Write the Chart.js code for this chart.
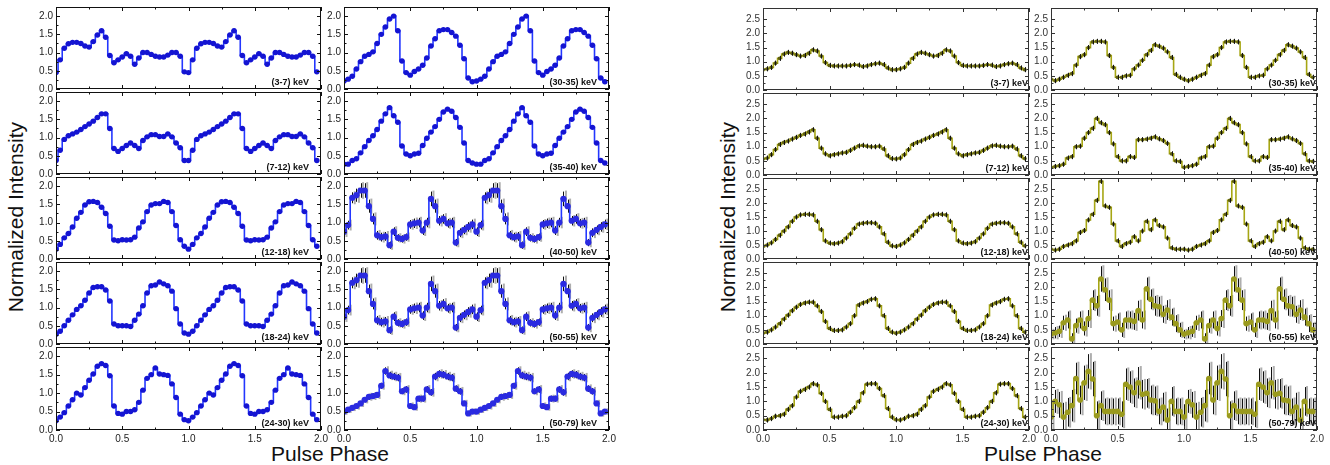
<!DOCTYPE html>
<html>
<head>
<meta charset="utf-8">
<script src="https://cdn.jsdelivr.net/npm/chart.js@4.4.0/dist/chart.umd.min.js"></script>
<style>
body{margin:0;background:#fff;}
#lienzo{position:relative;width:1330px;height:465px;overflow:hidden;background:#fff;font-family:Arial,"Liberation Sans",sans-serif;}
#lienzo canvas{position:absolute;}
.titulo{position:absolute;font-size:21px;color:#111;text-align:center;white-space:nowrap;line-height:24px;height:24px;}
.vertical{transform:rotate(-90deg);transform-origin:50% 50%;}
</style>
</head>
<body>
<div id="lienzo">
  <div class="titulo vertical" style="left:-94px;top:205px;width:220px;">Normalized Intensity</div>
  <div class="titulo vertical" style="left:618px;top:205px;width:220px;">Normalized Intensity</div>
  <div class="titulo" style="left:230px;top:442px;width:200px;">Pulse Phase</div>
  <div class="titulo" style="left:943px;top:442px;width:200px;">Pulse Phase</div>
</div>
<script>
//Datos: un ciclo de 32 bins por panel (el grafico lo muestra dos veces)
var binsCiclo = 32;
var ticksX = [0, 0.5, 1.0, 1.5, 2.0];
var ticksYIzq = [0, 0.5, 1.0, 1.5, 2.0];
var ticksYDer = [0, 0.5, 1.0, 1.5, 2.0, 2.5];

var etiquetas = ["(3-7) keV", "(30-35) keV", "(7-12) keV", "(35-40) keV", "(12-18) keV",
                 "(40-50) keV", "(18-24) keV", "(50-55) keV", "(24-30) keV", "(50-79) keV"];

//Figura izquierda
var izq_3_7   = [0.45,0.8,1.12,1.24,1.28,1.28,1.25,1.18,1.15,1.3,1.48,1.6,1.42,0.92,0.72,0.8,0.88,0.97,0.9,0.68,0.85,1.0,1.0,0.95,0.9,0.88,0.88,0.93,1.0,1.0,0.9,0.47];
var izq_30_35 = [0.22,0.27,0.35,0.55,0.75,0.9,0.95,1.02,1.25,1.5,1.7,1.92,2.0,1.6,0.77,0.45,0.38,0.48,0.55,0.65,0.85,1.18,1.38,1.6,1.63,1.63,1.55,1.45,1.2,0.83,0.3,0.2];
var izq_7_12  = [0.37,0.65,0.95,1.05,1.1,1.15,1.22,1.3,1.37,1.45,1.55,1.65,1.65,1.25,0.7,0.62,0.7,0.78,0.85,0.78,0.7,0.92,1.02,1.08,1.08,1.03,1.03,1.1,1.02,0.85,0.72,0.37];
var izq_35_40 = [0.27,0.27,0.37,0.42,0.58,0.75,0.92,1.05,1.22,1.45,1.65,1.82,1.6,1.42,0.77,0.55,0.5,0.55,0.57,0.78,0.98,1.15,1.3,1.5,1.7,1.78,1.72,1.55,1.28,0.85,0.37,0.3];
var izq_12_18 = [0.27,0.4,0.58,0.7,0.88,1.12,1.28,1.48,1.57,1.58,1.55,1.42,1.25,0.9,0.52,0.5,0.53,0.52,0.53,0.6,0.85,1.02,1.3,1.48,1.52,1.52,1.58,1.55,1.3,0.92,0.53,0.35];
var izq_40_50 = [0.75,0.93,1.68,1.75,1.88,1.88,1.45,1.1,0.65,0.6,0.62,0.38,0.75,0.58,0.55,0.6,0.95,0.98,1.0,0.78,1.0,1.65,1.45,1.05,1.1,0.98,1.0,0.45,0.72,0.8,0.88,0.95];
var izq_18_24 = [0.27,0.35,0.5,0.65,0.8,0.95,1.05,1.2,1.4,1.55,1.57,1.57,1.48,1.18,0.55,0.5,0.5,0.5,0.48,0.65,0.82,1.05,1.4,1.6,1.62,1.7,1.65,1.6,1.45,0.97,0.55,0.3];
var izq_50_55 = [0.75,0.93,1.68,1.75,1.88,1.88,1.45,1.1,0.65,0.6,0.62,0.38,0.75,0.58,0.55,0.6,0.95,0.98,1.0,0.78,1.0,1.65,1.45,1.05,1.1,0.98,1.0,0.45,0.72,0.8,0.88,0.95];
var izq_24_30 = [0.25,0.35,0.47,0.65,0.82,1.0,0.95,1.15,1.35,1.52,1.73,1.8,1.75,1.47,0.65,0.45,0.43,0.5,0.5,0.55,0.75,1.08,1.4,1.5,1.68,1.52,1.5,1.48,1.25,0.88,0.43,0.28];
var izq_50_79 = [0.5,0.55,0.6,0.65,0.72,0.82,0.9,0.92,0.95,1.2,1.6,1.48,1.45,1.42,1.05,1.1,0.65,0.62,0.85,0.85,1.1,1.02,1.45,1.52,1.5,1.45,1.42,1.12,1.05,0.72,0.45,0.5];

var errIzq_40_50 = [0.12,0.12,0.15,0.18,0.2,0.2,0.18,0.15,0.12,0.12,0.12,0.1,0.12,0.1,0.1,0.1,0.12,0.13,0.13,0.12,0.13,0.2,0.18,0.13,0.13,0.12,0.13,0.1,0.12,0.12,0.13,0.13];
var errIzq_50_55 = [0.12,0.12,0.15,0.18,0.2,0.2,0.18,0.15,0.12,0.12,0.12,0.1,0.12,0.1,0.1,0.1,0.12,0.13,0.13,0.12,0.13,0.2,0.18,0.13,0.13,0.12,0.13,0.1,0.12,0.12,0.13,0.13];
var errIzq_50_79 = [0.06,0.06,0.06,0.07,0.07,0.07,0.08,0.08,0.08,0.08,0.1,0.1,0.1,0.1,0.08,0.09,0.07,0.07,0.08,0.08,0.09,0.09,0.1,0.1,0.1,0.1,0.1,0.09,0.09,0.07,0.06,0.06];

//Figura derecha
var der_3_7   = [0.72,0.75,0.8,0.95,1.12,1.27,1.33,1.3,1.25,1.2,1.22,1.3,1.42,1.38,1.2,0.97,0.87,0.85,0.85,0.85,0.85,0.87,0.9,0.88,0.83,0.85,0.9,0.93,0.95,0.9,0.78,0.72];
var der_30_35 = [0.38,0.33,0.38,0.45,0.52,0.58,0.88,1.18,1.25,1.5,1.7,1.72,1.72,1.7,1.22,0.8,0.45,0.45,0.5,0.52,0.75,0.88,1.05,1.25,1.4,1.6,1.55,1.48,1.35,1.15,0.55,0.45];
var der_7_12  = [0.57,0.6,0.72,0.9,1.08,1.15,1.2,1.27,1.33,1.4,1.45,1.52,1.6,1.3,0.95,0.75,0.68,0.72,0.75,0.78,0.8,0.87,0.95,1.03,1.05,1.02,1.0,1.0,1.02,0.92,0.68,0.58];
var der_35_40 = [0.27,0.3,0.33,0.38,0.6,0.65,1.0,1.02,1.3,1.5,1.65,2.0,1.85,1.78,1.5,1.1,0.65,0.5,0.5,0.65,0.62,1.25,1.25,1.27,1.3,1.35,1.28,1.22,1.12,0.75,0.5,0.48];
var der_12_18 = [0.45,0.5,0.58,0.7,0.85,1.0,1.15,1.35,1.5,1.58,1.6,1.6,1.58,1.35,1.05,0.65,0.57,0.55,0.57,0.62,0.75,0.9,1.1,1.25,1.28,1.3,1.3,1.28,1.15,0.9,0.6,0.47];
var der_40_50 = [0.35,0.32,0.35,0.45,0.5,0.55,0.65,0.95,1.02,1.4,1.6,2.1,2.78,1.9,1.85,1.25,0.65,0.45,0.55,0.6,0.8,0.65,1.0,1.35,1.05,1.4,1.2,1.15,0.75,0.4,0.35,0.35];
var der_18_24 = [0.38,0.42,0.5,0.6,0.72,0.88,1.02,1.18,1.3,1.4,1.45,1.48,1.48,1.35,1.15,0.8,0.55,0.48,0.48,0.5,0.6,0.72,1.0,1.38,1.45,1.5,1.58,1.6,1.35,1.0,0.55,0.42];
var der_50_55 = [0.35,0.4,0.45,0.75,0.85,0.18,0.65,0.85,0.55,0.9,1.55,1.35,2.3,1.92,1.55,0.72,0.78,0.5,0.85,0.85,0.8,1.18,0.85,1.95,1.58,1.35,1.32,1.05,1.2,0.95,0.72,0.5];
var der_24_30 = [0.36,0.35,0.4,0.48,0.5,0.55,0.72,0.85,1.15,1.35,1.42,1.5,1.62,1.58,1.28,1.0,0.72,0.45,0.45,0.48,0.5,0.62,0.78,1.0,1.3,1.6,1.62,1.62,1.45,1.2,0.75,0.45];
var der_50_79 = [0.45,1.0,0.88,0.45,0.62,0.85,1.8,1.05,1.65,2.05,1.78,0.5,0.85,0.65,0.65,0.65,0.65,0.55,1.6,1.5,1.3,1.65,1.25,1.28,1.05,1.02,0.65,0.8,0.35,1.0,0.65,0.65];

var errDer_50_55 = [0.15,0.2,0.2,0.25,0.3,0.2,0.25,0.3,0.25,0.3,0.35,0.35,0.45,0.4,0.35,0.25,0.3,0.25,0.3,0.3,0.3,0.35,0.3,0.4,0.35,0.35,0.35,0.3,0.35,0.3,0.3,0.25];
var errDer_50_79 = [0.45,0.4,0.45,0.5,0.5,0.55,0.55,0.5,0.6,0.6,0.6,0.5,0.5,0.45,0.45,0.45,0.45,0.45,0.55,0.55,0.5,0.55,0.5,0.5,0.5,0.5,0.45,0.5,0.4,0.5,0.45,0.45];
var errDerSuave = 0.09;   // barras pequenas de los paneles suaves

var perfilesIzq = [izq_3_7, izq_30_35, izq_7_12, izq_35_40, izq_12_18, izq_40_50, izq_18_24, izq_50_55, izq_24_30, izq_50_79];
var erroresIzq  = [0, 0, 0, 0, 0, errIzq_40_50, 0, errIzq_50_55, 0, errIzq_50_79];
var perfilesDer = [der_3_7, der_30_35, der_7_12, der_35_40, der_12_18, der_40_50, der_18_24, der_50_55, der_24_30, der_50_79];
var erroresDer  = [errDerSuave, errDerSuave, errDerSuave, errDerSuave, errDerSuave, errDerSuave, errDerSuave, errDer_50_55, errDerSuave, errDer_50_79];

Chart.defaults.font.family = 'Arial, "Liberation Sans", sans-serif';

function esMultiplo(v, paso) {
    var q = v / paso;
    return Math.abs(q - Math.round(q)) < 1e-6;
}

//Dibuja las barras de error del panel
function dibujarBarras(chart, op) {
    var ctx = chart.ctx, a = chart.chartArea, sy = chart.scales.y;
    ctx.save();
    ctx.beginPath();
    ctx.rect(a.left, a.top, a.right - a.left, a.bottom - a.top);
    ctx.clip();
    chart.data.datasets.forEach(function(ds, k) {
        if (!ds.errores) return;
        var meta = chart.getDatasetMeta(k);
        meta.data.forEach(function(p, i) {
            var e = Array.isArray(ds.errores) ? ds.errores[i % ds.errores.length] : ds.errores;
            var v = ds.data[i].y;
            var y1 = sy.getPixelForValue(v - e), y2 = sy.getPixelForValue(v + e);
            if (op.sombra) {
                ctx.strokeStyle = 'rgba(140,140,140,0.7)';
                ctx.lineWidth = 2;
                ctx.beginPath();
                ctx.moveTo(p.x + 2.5, y1 + 1); ctx.lineTo(p.x + 2.5, y2 - 1);
                ctx.stroke();
            }
            ctx.strokeStyle = '#111';
            ctx.lineWidth = 1;
            ctx.beginPath();
            ctx.moveTo(Math.round(p.x) + 0.5, y1); ctx.lineTo(Math.round(p.x) + 0.5, y2);
            ctx.stroke();
        });
    });
    ctx.restore();
}

//Plugin: barras de error, marco, ticks hacia dentro y etiqueta del panel
var marcoPanel = {
    id: 'marcoPanel',
    beforeDatasetsDraw: function(chart, args, op) {
        if (!op.barrasEncima) dibujarBarras(chart, op);
    },
    afterDatasetsDraw: function(chart, args, op) {
        if (op.barrasEncima) dibujarBarras(chart, op);
    },
    afterDraw: function(chart, args, op) {
        var ctx = chart.ctx, a = chart.chartArea, sx = chart.scales.x, sy = chart.scales.y;
        ctx.save();
        ctx.strokeStyle = op.colorMarco;
        ctx.lineWidth = 1;
        ctx.strokeRect(a.left + 0.5, a.top + 0.5, a.right - a.left - 1, a.bottom - a.top - 1);
        ctx.beginPath();
        sx.ticks.forEach(function(t) {
            if (!esMultiplo(t.value, 0.25)) return;
            var L = esMultiplo(t.value, 0.5) ? 4 : 2.5;
            var px = Math.round(sx.getPixelForValue(t.value)) + 0.5;
            ctx.moveTo(px, a.bottom); ctx.lineTo(px, a.bottom - L);
            ctx.moveTo(px, a.top); ctx.lineTo(px, a.top + L);
        });
        sy.ticks.forEach(function(t) {
            if (!esMultiplo(t.value, 0.25)) return;
            var L = esMultiplo(t.value, 0.5) ? 4 : 2.5;
            var py = Math.round(sy.getPixelForValue(t.value)) + 0.5;
            ctx.moveTo(a.left, py); ctx.lineTo(a.left + L, py);
            ctx.moveTo(a.right, py); ctx.lineTo(a.right - L, py);
        });
        ctx.stroke();
        ctx.fillStyle = '#111';
        ctx.font = 'bold 9px Arial, "Liberation Sans", sans-serif';
        ctx.textAlign = 'right';
        ctx.textBaseline = 'alphabetic';
        ctx.fillText(op.etiqueta, a.right - op.margenEtiqueta, a.bottom - 4);
        ctx.restore();
    }
};

var figuras = [
    { perfiles: perfilesIzq, errores: erroresIzq, izquierdas: [56, 344], ancho: 265, arriba: 5, altoFila: 85,
      ymax: 2.25, ticksY: ticksYIzq, linea: 'rgb(35,55,255)', punto: '#1414d2', puntoRuido: '#2a2ae0', radio: 2.7, margenEtiqueta: 12,
      colorMarco: '#111', colorTexto: '#222', barrasSuavesEncima: false },
    { perfiles: perfilesDer, errores: erroresDer, izquierdas: [763, 1051], ancho: 266, arriba: 6, altoFila: 84.8,
      ymax: 2.9, ticksY: ticksYDer, linea: '#a6a614', punto: '#5e5e10', puntoRuido: '#9a9a1e', radio: 1.9, margenEtiqueta: 1,
      colorMarco: '#333', colorTexto: '#333', barrasSuavesEncima: true }
];

var lienzo = document.getElementById('lienzo');

function crearPanel(fig, idx) {
    var fila = Math.floor(idx / 2), col = idx % 2;
    var abajo = (fila === 4);
    var yTop = Math.round(fig.arriba + fig.altoFila * fila);
    var yBot = Math.round(fig.arriba + fig.altoFila * (fila + 1));
    var altoX = abajo ? 22 : 8;
    var margenIzq = 30, padTop = 7, padDer = 10;

    var cv = document.createElement('canvas');
    cv.width = margenIzq + fig.ancho + padDer;
    cv.height = padTop + (yBot - yTop) + altoX;
    cv.style.left = (fig.izquierdas[col] - margenIzq) + 'px';
    cv.style.top = (yTop - padTop) + 'px';
    lienzo.appendChild(cv);

    var perfil = fig.perfiles[idx];
    var puntos = [];
    for (var c = 0; c < 2; c++) {
        perfil.forEach(function(v, i) {
            puntos.push({ x: c + i / binsCiclo, y: v });
        });
    }
    var ruidoso = Array.isArray(fig.errores[idx]);
    var err = fig.errores[idx] ? fig.errores[idx] : null;

    new Chart(cv, {
        type: 'line',
        plugins: [marcoPanel],
        data: {
            datasets: [{
                data: puntos,
                stepped: 'middle',
                borderColor: fig.linea,
                borderWidth: 1.6,
                pointRadius: ruidoso ? (fig.barrasSuavesEncima ? 2.8 : fig.radio + 0.4) : fig.radio,
                pointBackgroundColor: ruidoso ? fig.puntoRuido : fig.punto,
                pointBorderWidth: 0,
                pointHoverRadius: 0,
                errores: err
            }]
        },
        options: {
            responsive: false,
            animation: false,
            events: [],
            layout: { padding: { top: padTop, right: padDer, left: 0, bottom: 0 } },
            plugins: {
                legend: { display: false },
                tooltip: { enabled: false },
                marcoPanel: { etiqueta: etiquetas[idx], sombra: ruidoso, barrasEncima: fig.barrasSuavesEncima && !ruidoso,
                              margenEtiqueta: fig.margenEtiqueta, colorMarco: fig.colorMarco }
            },
            scales: {
                x: {
                    type: 'linear', min: 0, max: 2,
                    grid: { display: false, drawTicks: false },
                    border: { display: false },
                    ticks: {
                        display: abajo, stepSize: 0.25, autoSkip: false, maxRotation: 0, padding: 3,
                        color: fig.colorTexto, font: { size: 10 },
                        callback: function(v) {
                            for (var k = 0; k < ticksX.length; k++) if (Math.abs(v - ticksX[k]) < 1e-6) return ticksX[k].toFixed(1);
                            return '';
                        }
                    },
                    afterFit: function(s) { s.height = altoX; }
                },
                y: {
                    type: 'linear', min: 0, max: fig.ymax,
                    grid: { display: false, drawTicks: false },
                    border: { display: false },
                    ticks: {
                        stepSize: 0.25, autoSkip: false, padding: 3,
                        color: fig.colorTexto, font: { size: 10 },
                        callback: function(v) {
                            for (var k = 0; k < fig.ticksY.length; k++) if (Math.abs(v - fig.ticksY[k]) < 1e-6) return fig.ticksY[k].toFixed(1);
                            return '';
                        }
                    },
                    afterFit: function(s) { s.width = margenIzq; }
                }
            }
        }
    });
}

figuras.forEach(function(fig) {
    for (var i = 0; i < 10; i++) crearPanel(fig, i);
});
</script>
</body>
</html>
